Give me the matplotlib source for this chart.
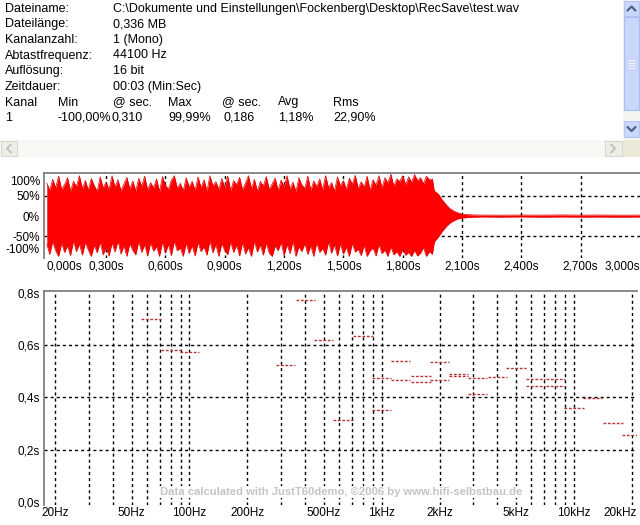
import numpy as np
import matplotlib
matplotlib.use('Agg')
import matplotlib.pyplot as plt
from matplotlib.patches import Rectangle
from matplotlib.lines import Line2D

W, H = 640, 525
FS = 9.0
plt.rcParams['font.family'] = ['Liberation Sans', 'DejaVu Sans']

# ---------------- data ----------------
info_labels = ['Dateiname:', 'Dateilänge:', 'Kanalanzahl:', 'Abtastfrequenz:',
               'Auflösung:', 'Zeitdauer:']
info_values = ['C:\\Dokumente und Einstellungen\\Fockenberg\\Desktop\\RecSave\\test.wav',
               '0,336 MB', '1 (Mono)', '44100 Hz', '16 bit', '00:03 (Min:Sec)']
stat_headers = ['Kanal', 'Min', '@ sec.', 'Max', '@ sec.', 'Avg', 'Rms']
stat_values = ['1', '-100,00%', '0,310', '99,99%', '0,186', '1,18%', '22,90%']

# waveform envelope (percent), sampled every wave_step seconds from 0 s
wave_step = 0.015
wave_hi = [82, 64, 91, 70, 99, 66, 78, 95, 62, 86,
           73, 100, 68, 88, 64, 93, 76, 61, 97, 70,
           84, 66, 100, 72, 90, 63, 79, 96, 67, 87,
           62, 94, 74, 99, 65, 83, 70, 92, 61, 98,
           77, 66, 89, 100, 69, 81, 63, 95, 72, 86,
           64, 97, 70, 90, 62, 100, 75, 85, 66, 93,
           71, 99, 63, 88, 78, 96, 65, 82, 100, 68,
           91, 62, 86, 74, 98, 66, 80, 94, 63, 89,
           72, 100, 67, 84, 61, 95, 77, 69, 99, 64,
           87, 73, 92, 65, 100, 70, 83, 62, 97, 75,
           88, 66, 94, 79, 101, 68, 85, 72, 99, 64,
           90, 76, 100, 70, 95, 82, 104, 74, 92, 86,
           100, 78, 97, 84, 103, 88, 95, 80, 99, 90,
           92]
wave_lo = [-70, -95, -63, -86, -100, -67, -90, -74, -98, -62,
           -88, -69, -97, -65, -84, -100, -72, -91, -64, -96,
           -77, -99, -66, -89, -61, -94, -73, -100, -68, -85,
           -96, -63, -90, -71, -99, -66, -87, -75, -100, -64,
           -92, -70, -98, -62, -86, -79, -100, -67, -93, -73,
           -99, -65, -88, -76, -97, -61, -91, -70, -100, -68,
           -85, -96, -64, -90, -72, -99, -66, -94, -78, -100,
           -63, -89, -71, -97, -67, -92, -100, -74, -86, -65,
           -98, -70, -93, -62, -100, -76, -88, -68, -95, -73,
           -100, -66, -90, -80, -97, -64, -92, -71, -99, -69,
           -94, -77, -100, -68, -89, -82, -98, -72, -100, -86,
           -79, -99, -70, -93, -84, -100, -76, -96, -88, -100,
           -82, -97, -90, -100, -85, -99, -92, -78, -100, -88,
           -95]
decay_t = [1.96, 1.98, 2.00, 2.02, 2.04, 2.06, 2.08, 2.10, 2.13, 2.16,
           2.20, 2.30, 2.40, 2.50, 2.60, 2.70, 2.80, 2.90, 3.00]
decay_hi = [62, 55, 40, 28, 18, 12, 8, 5, 3.5, 2.8,
            2.5, 2.2, 2.6, 2.3, 2.8, 2.4, 2.6, 2.2, 2.4]
decay_lo = [-64, -52, -38, -26, -17, -11, -7, -5, -3.5, -2.6,
            -2.2, -2.5, -2.1, -2.6, -2.2, -2.5, -2.3, -2.6, -2.3]
time_ticks = [0.0, 0.3, 0.6, 0.9, 1.2, 1.5, 1.8, 2.1, 2.4, 2.7, 3.0]
time_labels = ['0,000s', '0,300s', '0,600s', '0,900s', '1,200s', '1,500s',
               '1,800s', '2,100s', '2,400s', '2,700s', '3,000s']
level_ticks = [-100, -50, 0, 50, 100]
level_labels = ['-100%', '-50%', '0%', '50%', '100%']

# T60 per third-octave band
band_hz = [63, 80, 100, 315, 400, 500, 630, 800,
           1000, 1000, 1250, 1250, 1600, 1600, 2000, 2000,
           2500, 2500, 3150, 3150, 4000, 5000, 6300, 6300,
           8000, 8000, 10000, 12500, 16000, 20000]
t60_s = [0.70, 0.58, 0.575, 0.525, 0.77, 0.618, 0.314, 0.635,
         0.475, 0.352, 0.539, 0.467, 0.48, 0.459, 0.535, 0.467,
         0.49, 0.483, 0.475, 0.413, 0.477, 0.512, 0.472, 0.443,
         0.472, 0.443, 0.359, 0.397, 0.302, 0.258]
freq_ticks = [20, 50, 100, 200, 500, 1000, 2000, 5000, 10000]
freq_labels = ['20Hz', '50Hz', '100Hz', '200Hz', '500Hz', '1kHz', '2kHz',
               '5kHz', '10kHz']
last_freq_label = '20kHz'
t60_ticks = [0.0, 0.2, 0.4, 0.6, 0.8]
t60_labels = ['0,0s', '0,2s', '0,4s', '0,6s', '0,8s']

# ---------------- figure ----------------
fig = plt.figure(figsize=(6.4, 5.25), dpi=100)
fig.patch.set_facecolor('white')


def fx(x):
    return x / W


def fy(y):
    return 1 - y / H


def rect(x0, y0, x1, y1, fc, ec='none', lw=0.8):
    fig.patches.append(Rectangle((fx(x0), fy(y1)), (x1 - x0) / W, (y1 - y0) / H,
                                 transform=fig.transFigure, facecolor=fc,
                                 edgecolor=ec, lw=lw))


def pline(xs, ys, color, lw=1.5):
    fig.lines.append(Line2D([fx(x) for x in xs], [fy(y) for y in ys],
                            transform=fig.transFigure, color=color, lw=lw,
                            solid_capstyle='round'))


# info text
row_y = [9, 24.5, 40, 55.5, 71, 87, 102.5, 118]
for i, (l, v) in enumerate(zip(info_labels, info_values)):
    fig.text(fx(5), fy(row_y[i]), l, fontsize=FS, va='center', ha='left')
    fig.text(fx(113), fy(row_y[i]), v, fontsize=FS, va='center', ha='left')
hx = [5, 58, 113, 168, 222, 278, 333]
vx = [5, 58, 111, 168, 223, 278, 333]
for x, s in zip(hx, stat_headers):
    fig.text(fx(x), fy(row_y[6]), s, fontsize=FS, va='center', ha='left')
for x, s in zip(vx, stat_values):
    fig.text(fx(x), fy(row_y[7]), s, fontsize=FS, va='center', ha='left')

# scrollbars
rect(623, 0, 640, 140, '#f4f4f0')
rect(624, 1, 639, 16, '#c9d8fc', '#b2c5f2')
pline([627.5, 631.5, 635.5], [10.5, 6.5, 10.5], '#4d6185', 1.6)
rect(624, 17, 639, 110, '#c8d7fb', '#a9bef0')
for gy in [60, 62.5, 65, 67.5]:
    pline([628, 635], [gy, gy], '#eef3fe', 0.8)
rect(624, 121, 639, 137, '#c9d8fc', '#b2c5f2')
pline([627.5, 631.5, 635.5], [127, 131, 127], '#4d6185', 1.6)
rect(0, 140, 623, 157, '#f7f7f4')
rect(1, 141, 17, 156, '#eeede6', '#d8d8d0')
pline([11, 7, 11], [144.5, 148.5, 152.5], '#c2c2bc', 1.4)
rect(605, 141, 622, 156, '#eeede6', '#d8d8d0')
pline([611, 615, 611], [144.5, 148.5, 152.5], '#c2c2bc', 1.4)
rect(623, 140, 640, 157, '#ece9d8')

GRID_LS = (0, (2.2, 2.2))
SPINE = '#808080'

# ---------------- waveform ----------------
axw = fig.add_axes([fx(44), fy(258), (640 - 44) / W, (258 - 173) / H])
t_core = np.arange(len(wave_hi)) * wave_step
t_all = np.concatenate([t_core, decay_t])
hi_all = np.concatenate([wave_hi, decay_hi])
lo_all = np.concatenate([wave_lo, decay_lo])
axw.fill_between(t_all, lo_all, hi_all, color='#ff0000', lw=0, zorder=3)
axw.plot(t_all, hi_all, color='#e00000', lw=0.5, zorder=3)
axw.plot(t_all, lo_all, color='#e00000', lw=0.5, zorder=3)
for x in time_ticks[1:-1]:
    axw.axvline(x, color='black', lw=1.0, ls=GRID_LS, zorder=1)
for y in [50, -50]:
    axw.axhline(y, color='black', lw=1.0, ls=GRID_LS, zorder=1)
axw.set_xlim(-0.014, 3.0)
axw.set_ylim(-104, 106.7)
axw.set_xticks(time_ticks)
xl = axw.set_xticklabels(time_labels, fontsize=8.5)
xl[0].set_ha('left')
xl[-1].set_ha('right')
axw.set_yticks(level_ticks)
yl = axw.set_yticklabels(level_labels, fontsize=8.5)
yl[0].set_va('bottom')
yl[-1].set_va('top')
axw.tick_params(length=0, pad=1.5)
axw.tick_params(axis='y', pad=3)
for s in ['right', 'bottom']:
    axw.spines[s].set_visible(False)
for s in ['top', 'left']:
    axw.spines[s].set_color(SPINE)
    axw.spines[s].set_linewidth(1.3)

# ---------------- T60 ----------------
ax = fig.add_axes([fx(44), fy(505), (637 - 44) / W, (505 - 291) / H])
ax.set_xscale('log')
ax.set_xlim(17.5, 21300)
ax.set_ylim(-0.01, 0.806)
grid_f = [m * 10 ** e for e in (1, 2, 3) for m in range(1, 10) if m * 10 ** e >= 20] + [10000, 20000]
for f in grid_f:
    ax.axvline(f, color='black', lw=1.0, ls=GRID_LS, zorder=1)
for y in [0.2, 0.4, 0.6]:
    ax.axhline(y, color='black', lw=1.0, ls=GRID_LS, zorder=1)
b = np.array(band_hz, dtype=float)
ax.hlines(t60_s, b * 2 ** (-1 / 6), b * 2 ** (1 / 6), colors='#b83232',
          linestyles=(0, (2.0, 1.2)), lw=1.0, zorder=3)
ax.set_xticks(freq_ticks)
xt = ax.set_xticklabels(freq_labels, fontsize=8.5)
ax.xaxis.set_minor_locator(matplotlib.ticker.NullLocator())
ax.set_yticks(t60_ticks)
ax.set_yticklabels(t60_labels, fontsize=8.5)
ax.tick_params(length=0, pad=1.5)
ax.tick_params(axis='y', pad=3)
for s in ['right', 'bottom']:
    ax.spines[s].set_visible(False)
for s in ['top', 'left']:
    ax.spines[s].set_color(SPINE)
    ax.spines[s].set_linewidth(1.3)
# last label placed like the other tick labels, but kept inside the figure
ax.annotate(last_freq_label, xy=(1.0, 0.0), xycoords='axes fraction',
            xytext=(0, -1.5), textcoords='offset points',
            fontsize=8.5, ha='right', va='top')

fig.text(fx(341), fy(492), 'Data calculated with JustT60demo, ©2006 by www.hifi-selbstbau.de',
         fontsize=8.1, fontweight='bold', color='#c4c4c4', ha='center', va='center',
         zorder=5, bbox=dict(facecolor='white', edgecolor='none', pad=0.5))

fig.savefig('out.png', dpi=100, facecolor='white')
